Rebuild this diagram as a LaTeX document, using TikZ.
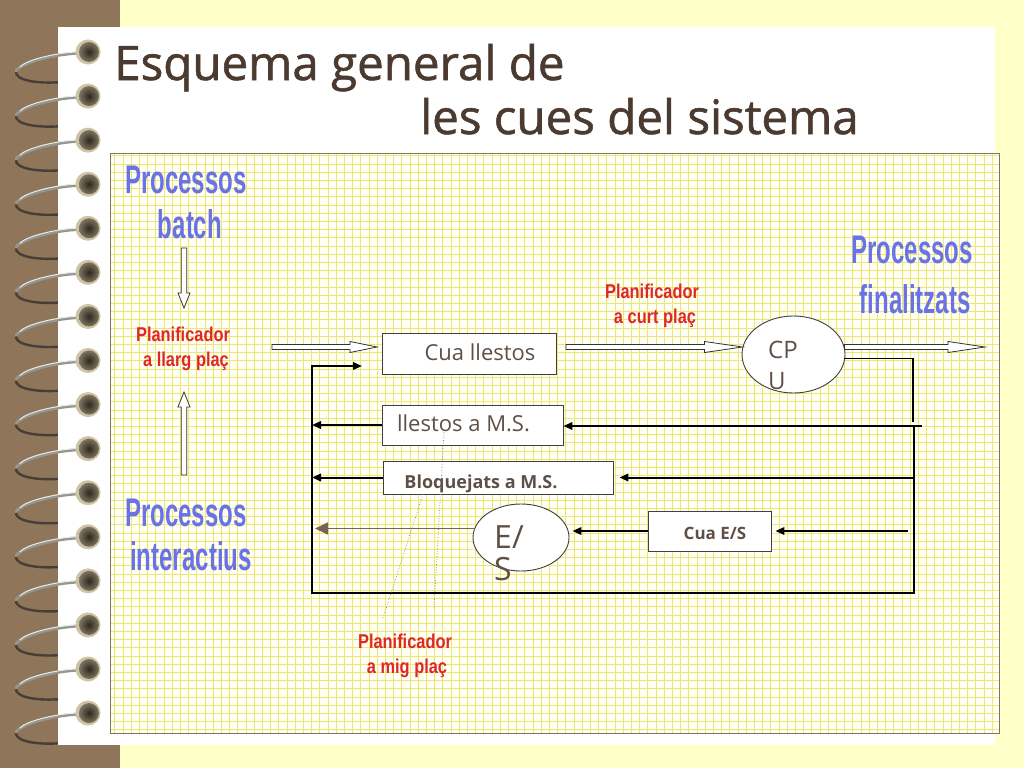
\documentclass[tikz,border=0pt]{standalone}
\usepackage{fontspec}
\setmainfont{Open Sans}
\newfontfamily\titlefont[FakeBold=1.2]{Open Sans}
\newfontfamily\bluefont[FakeStretch=0.6]{Liberation Sans}
\newfontfamily\redfont[FakeStretch=0.82]{Liberation Sans}
\usetikzlibrary{calc,arrows.meta,shapes.geometric}

\definecolor{bgyellow}{RGB}{255,255,200}
\definecolor{spine}{RGB}{143,118,90}
\definecolor{gridline}{RGB}{236,230,120}
\definecolor{gridfill}{RGB}{255,255,244}
\definecolor{titlecol}{RGB}{75,58,48}
\definecolor{boxtext}{RGB}{95,80,70}
\definecolor{bluecol}{RGB}{105,115,230}
\definecolor{redcol}{RGB}{222,40,40}
\definecolor{esbrown}{RGB}{120,100,85}
\definecolor{framecol}{RGB}{130,115,100}
\definecolor{wiredark}{RGB}{70,62,55}
\definecolor{wiremid}{RGB}{150,150,145}
\definecolor{wirelight}{RGB}{235,235,230}
\definecolor{ballrim}{RGB}{205,195,165}
\definecolor{balldark}{RGB}{45,40,30}
\definecolor{ballmid}{RGB}{125,115,95}

\tikzset{
 box/.style={draw=black!75, fill=white, line width=0.9pt, inner sep=0pt, text=boxtext, text depth=0pt},
 oval/.style={ellipse, draw=black!75, fill=white, line width=0.9pt, inner sep=0pt},
 ovaltext/.style={text=boxtext, anchor=base west, inner sep=0pt, align=left},
 bluelbl/.style={text=bluecol, font=\bluefont\bfseries\fontsize{40}{46}\selectfont, anchor=base, inner sep=0pt},
 redlbl/.style={text=redcol, font=\redfont\bfseries\fontsize{20}{27}\selectfont, anchor=base, inner sep=0pt},
 titlelbl/.style={text=titlecol, font=\titlefont\fontsize{47.5}{52}\selectfont, anchor=base west, inner sep=0pt},
 flow/.style={line width=2pt, line join=miter, -{Triangle[length=9pt,width=7.5pt]}},
 wire/.style={line width=2pt},
 hollow/.style={draw=black!80, fill=white, line width=0.8pt, line join=miter},
 migline/.style={draw=gray, dotted, line width=0.7pt},
}

% #1 head length, #2 shaft half width, #3 head half width, #4 start, #5 tip
\newcommand\hollowarrow[5]{%
 \path ($(#5)!#1pt!(#4)$) coordinate (hah);
 \filldraw[hollow] ($(#4)!#2pt!90:(#5)$) -- ($(hah)!#2pt!90:(#5)$) -- ($(hah)!#3pt!90:(#5)$) -- (#5)
   -- ($(hah)!#3pt!-90:(#5)$) -- ($(hah)!#2pt!-90:(#5)$) -- ($(#4)!#2pt!-90:(#5)$) -- cycle;}

\begin{document}
\begin{tikzpicture}[x=1pt,y=-1pt]
\useasboundingbox (0,0) rectangle (1024,768);
\fill[bgyellow] (0,0) rectangle (1024,768);
\fill[spine] (0,0) rectangle (120,768);

% back strands of the spiral
\foreach \i in {0,...,15}{
  \pgfmathsetmacro\yy{52+44.07*\i}
  \draw[wiredark, line width=2.4pt, line cap=round] (16,\yy+19) .. controls (14,\yy+29) and (40,\yy+32) .. (62,\yy+30);
}

% page
\fill[white] (58,27) rectangle (995,745);

% front strands and rings
\foreach \i in {0,...,15}{
  \pgfmathsetmacro\yy{52+44.07*\i}
  \draw[wiremid, line width=3pt, line cap=round] (80,\yy+1) .. controls (55,\yy+2) and (22,\yy+10) .. (16,\yy+19);
  \draw[wirelight, line width=1pt, line cap=round] (76,\yy) .. controls (55,\yy+1) and (26,\yy+8) .. (20,\yy+15);
  \fill[ballrim] (88,\yy) circle (12.5);
  \shade[inner color=balldark, outer color=ballmid] (89,\yy) circle (10);
}

% grid paper
\fill[gridfill] (110,153) rectangle (999,733);
\begin{scope}
  \clip (110,153) rectangle (999,733);
  \draw[gridline, line width=0.65pt, step=8.2pt] (100,145) grid (1010,745);
\end{scope}
\draw[framecol, line width=1pt] (110,153) rectangle (999,733);

% title
\node[titlelbl] (t1) at (114,80) {Esquema general de};
\node[titlelbl] (t2) at (420,134) {les cues del sistema};

% blue labels
\node[bluelbl] (batch1) at (186,193) {Processos};
\node[bluelbl] (batch2) at (190,238) {batch};
\node[bluelbl] (inter1) at (186,526) {Processos};
\node[bluelbl] (inter2) at (191,570) {interactius};
\node[bluelbl] (fin1) at (912,263) {Processos};
\node[bluelbl] (fin2) at (915,313) {finalitzats};

% red labels
\node[redlbl] (llarg1) at (183,341) {Planificador};
\node[redlbl] (llarg2) at (186,366) {a llarg plaç};
\node[redlbl] (curt1) at (652,298) {Planificador};
\node[redlbl] (curt2) at (655,323) {a curt plaç};
\node[redlbl] (mig1) at (405,648) {Planificador};
\node[redlbl] (mig2) at (407,673) {a mig plaç};

% boxes
\node[box, minimum width=174pt, minimum height=41pt, text height=13pt, font=\fontsize{22}{26}\selectfont] (cual) at (469,353.5) {\hspace*{22pt}Cua llestos};
\node[box, minimum width=181pt, minimum height=40pt, text height=13.5pt, font=\fontsize{22}{26}\selectfont] (lms) at (472.5,425) {llestos a M.S.\hspace*{18pt}};
\node[box, minimum width=230pt, minimum height=33pt, text height=21pt, font=\bfseries\fontsize{18}{22}\selectfont] (bms) at (498,477.5) {Bloquejats a M.S.\hspace*{34pt}};
\node[box, minimum width=123pt, minimum height=40pt, text height=16pt, font=\bfseries\fontsize{17}{20}\selectfont] (cues) at (709.5,531) {\hspace*{11pt}Cua E/S};

% ovals
\node[oval, minimum width=103pt, minimum height=77pt] (cpu) at (793.5,354.5) {};
\node[ovaltext, font=\fontsize{24}{31}\selectfont] (cputxt) at (768,389) {CP\\U};
\node[oval, minimum width=96pt, minimum height=67pt] (es) at (521,537.5) {};
\node[ovaltext, font=\fontsize{32}{32}\selectfont] (estxt) at (494,580) {E/\\S};

% hollow arrows
\coordinate (ba) at (184,248);
\coordinate (bb) at (184,308);
\hollowarrow{15}{2.8}{6}{ba}{bb}
\coordinate (ia) at (184,475);
\coordinate (ib) at (184,392);
\hollowarrow{15}{2.8}{6}{ia}{ib}
\coordinate (la) at (272,347);
\coordinate (lb) at (377,347);
\hollowarrow{27}{2.5}{5.5}{la}{lb}
\coordinate (ca) at (566,347);
\coordinate (cb) at ($(cpu.west)+(1,-7.5)$);
\hollowarrow{38}{2.5}{5.5}{ca}{cb}
\coordinate (oa) at ($(cpu.east)+(-1,-7.5)$);
\coordinate (ob) at (985,347);
\hollowarrow{37}{2.5}{5.5}{oa}{ob}

% feedback lines
\coordinate (cpuR) at ($(cpu.east)+(-1,3.5)$);
\coordinate (fbA) at (913,358);
\coordinate (fbB) at (913,422);
\draw[line width=0.9pt] (cpuR) -- (fbA);
\draw[wire] (fbA) -- (fbB);

\coordinate (rTop) at (922,426);
\coordinate (rCorner) at (914,426);
\coordinate (rBot) at (914,593);
\coordinate (lBot) at (312,593);
\coordinate (lTop) at (312,366);
\coordinate (cualIn) at (362,366);
\draw[flow] (rCorner) -- (rBot) -- (lBot) -- (lTop) -- (cualIn);
\draw[flow] (rTop) -- (lms.east |- rTop);
\draw[flow] (lms.west) -- (lms.west -| lTop);

\coordinate (rB) at (914,477.5);
\coordinate (bmsIn) at ($(bms.east)+(6,0)$);
\draw[flow] (rB) -- (bmsIn);
\draw[flow] (bms.west) -- (bms.west -| lTop);

\coordinate (rC) at (908,531);
\draw[flow] (rC) -- ($(cues.east)+(4,0)$);
\draw[flow] (cues.west) -- ($(es.east |- cues.west)+(3,0)$);

\coordinate (esL) at (475,528.5);
\coordinate (esOut) at (315,528.5);
\draw[esbrown, line width=1.5pt, -{Triangle[length=13pt,width=12pt]}] (esL) -- (esOut);

% dotted lines from the mid-term scheduler
\coordinate (m1) at (383,618);
\coordinate (m1e) at (423,494);
\coordinate (m2) at (434,608);
\coordinate (m2e) at (444,432);
\draw[migline] (m1) -- (m1e);
\draw[migline] (m2) -- (m2e);
\end{tikzpicture}
\end{document}
